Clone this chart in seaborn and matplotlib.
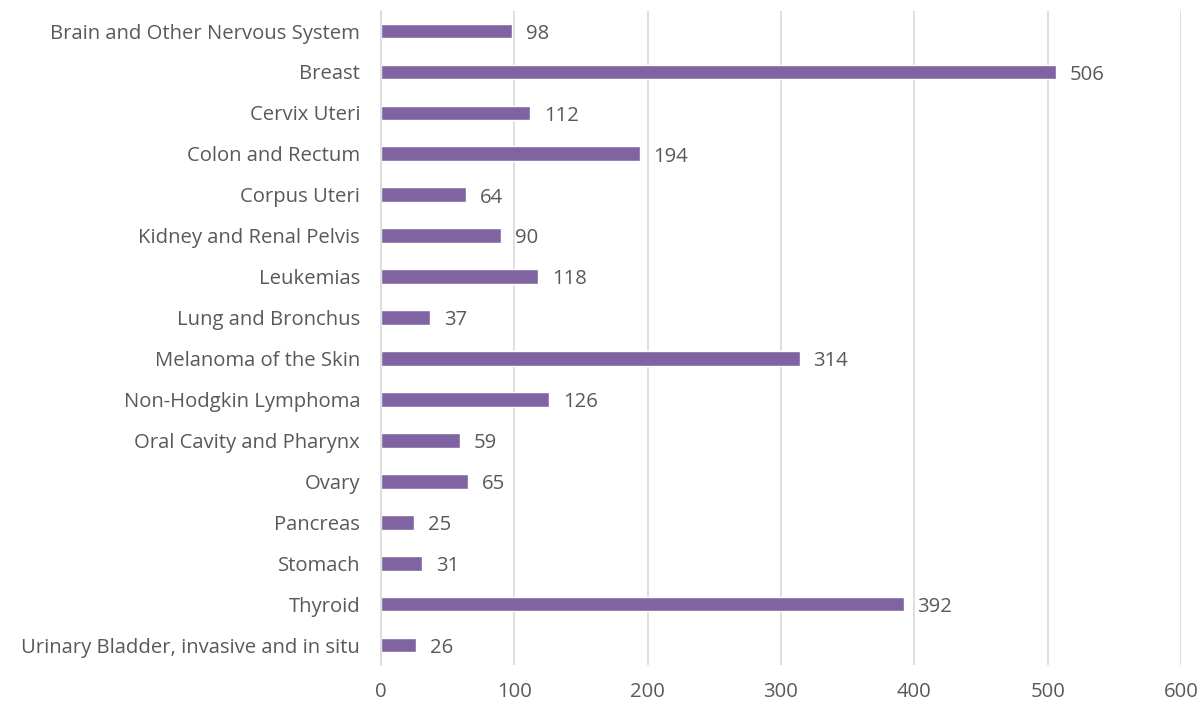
import matplotlib
matplotlib.use("Agg")
import matplotlib.pyplot as plt
import seaborn as sns
import pandas as pd

sites = [
    "Brain and Other Nervous System", "Breast", "Cervix Uteri", "Colon and Rectum",
    "Corpus Uteri", "Kidney and Renal Pelvis", "Leukemias", "Lung and Bronchus",
    "Melanoma of the Skin", "Non-Hodgkin Lymphoma", "Oral Cavity and Pharynx",
    "Ovary", "Pancreas", "Stomach", "Thyroid", "Urinary Bladder, invasive and in situ",
]
counts = [98, 506, 112, 194, 64, 90, 118, 37, 314, 126, 59, 65, 25, 31, 392, 26]
xticks = [0, 100, 200, 300, 400, 500, 600]

df = pd.DataFrame({"site": sites, "count": counts})

sns.set_style("white")
plt.rcParams["font.family"] = ["Open Sans", "DejaVu Sans"]
text_color = "#595959"
fs = 14.6

fig = plt.figure(figsize=(12.02, 7.06), dpi=100)
ax = fig.add_axes([0.317, 0.0574, 0.6655, 0.9276])

sns.barplot(data=df, x="count", y="site", color="#8064A2", saturation=1,
            width=0.36, ax=ax)

labels = ax.bar_label(ax.containers[0], padding=10, fontsize=fs, color=text_color)
for t in labels:
    t.xyann = (10, -2)

ax.set_xlim(0, 600)
ax.set_xticks(xticks)
ax.set_xlabel("")
ax.set_ylabel("")
ax.grid(axis="x", color="#D9D9D9", linewidth=1.2)
ax.set_axisbelow(True)
for side in ["top", "right", "bottom"]:
    ax.spines[side].set_visible(False)
ax.spines["left"].set_color("#D9D9D9")
ax.spines["left"].set_linewidth(1.2)
ax.tick_params(axis="both", length=0, labelsize=fs, colors=text_color)
ax.tick_params(axis="x", pad=12)
ax.tick_params(axis="y", pad=15)

fig.savefig("out.png", dpi=100)
